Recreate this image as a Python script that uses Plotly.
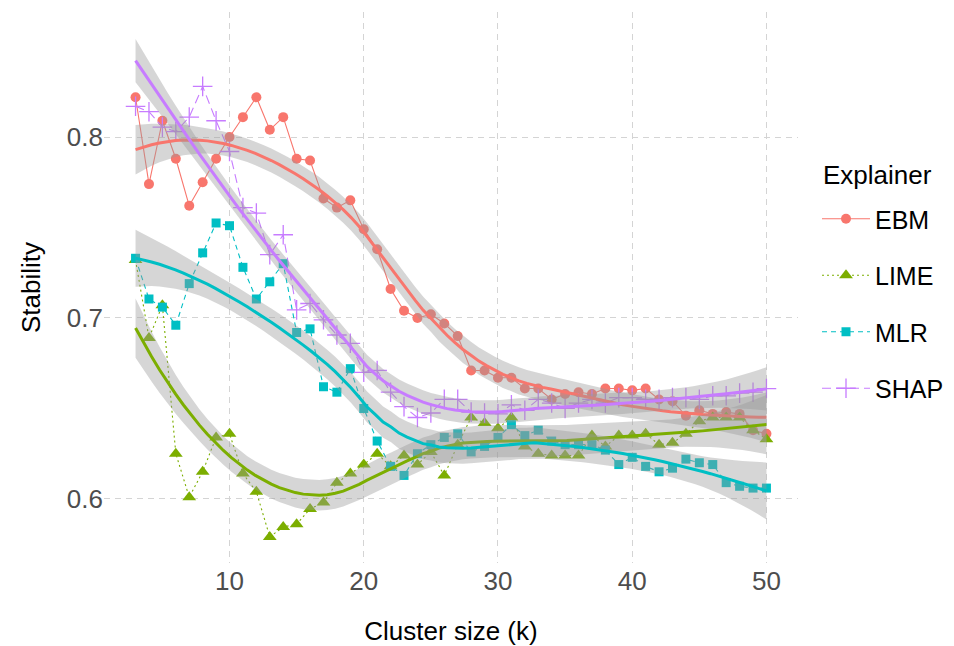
import numpy as np
import plotly.graph_objects as go

k = list(range(3, 51))

ebm = [0.822, 0.774, 0.809, 0.788, 0.762, 0.775, 0.788, 0.800, 0.811, 0.822,
       0.804, 0.811, 0.788, 0.787, 0.766, 0.761, 0.765, 0.749, 0.738, 0.716,
       0.704, 0.700, 0.702, 0.697, 0.690, 0.671, 0.671, 0.667, 0.667, 0.661,
       0.661, 0.655, 0.658, 0.659, 0.658, 0.661, 0.661, 0.660, 0.661, 0.655,
       0.654, 0.646, 0.649, 0.647, 0.648, 0.647, 0.638, 0.636]
lime = [0.732, 0.689, 0.707, 0.625, 0.601, 0.615, 0.634, 0.636, 0.614, 0.604,
        0.579, 0.5845, 0.586, 0.5945, 0.598, 0.609, 0.614, 0.619, 0.625, 0.618,
        0.624, 0.619, 0.626, 0.613, 0.630, 0.645, 0.642, 0.639, 0.645, 0.629,
        0.625, 0.624, 0.624, 0.624, 0.635, 0.629, 0.635, 0.635, 0.636, 0.630,
        0.631, 0.636, 0.643, 0.645, 0.645, 0.645, 0.638, 0.633]
mlr = [0.733, 0.7105, 0.706, 0.696, 0.719, 0.736, 0.7525, 0.751, 0.728, 0.7105,
       0.720, 0.730, 0.692, 0.694, 0.662, 0.659, 0.672, 0.650, 0.632, 0.618,
       0.613, 0.625, 0.630, 0.634, 0.636, 0.626, 0.629, 0.634, 0.641, 0.635,
       0.638, 0.632, 0.630, 0.630, 0.630, 0.627, 0.619, 0.623, 0.618, 0.615,
       0.617, 0.622, 0.620, 0.619, 0.609, 0.607, 0.606, 0.606]
shap = [0.817, 0.814, 0.8055, 0.803, 0.811, 0.828, 0.809, 0.792, 0.761, 0.758,
        0.735, 0.746, 0.7045, 0.708, 0.699, 0.6906, 0.686, 0.670, 0.671, 0.659,
        0.651, 0.645, 0.6475, 0.655, 0.655, 0.648, 0.6475, 0.647, 0.652, 0.649,
        0.655, 0.653, 0.650, 0.653, 0.655, 0.653, 0.656, 0.656, 0.655, 0.655,
        0.656, 0.656, 0.655, 0.657, 0.657, 0.6585, 0.659, 0.661]

names = ["EBM", "LIME", "MLR", "SHAP"]
series = [ebm, lime, mlr, shap]
colors = ["#F8766D", "#7CAE00", "#00BFC4", "#C77CFF"]
symbols = ["circle", "triangle-up", "square", "cross-thin"]
msizes = [10, 12, 9, 14]
dashes = ["solid", "2px,3px", "5px,4px", "9px,5px"]

x_ticks = [10, 20, 30, 40, 50]
y_ticks = [0.6, 0.7, 0.8]


def loess_weights(x, x0, span=0.75, degree=2):
    n = len(x)
    q = int(np.floor(n * span))
    d = np.abs(x - x0)
    h = np.sort(d)[q - 1]
    u = np.clip(d / h, 0, 1)
    w = (1 - u ** 3) ** 3
    X = np.vander(x - x0, degree + 1, increasing=True)
    XtW = X.T * w
    A = XtW @ X
    return np.linalg.solve(A, XtW)[0]


def loess_fit(x, y, grid):
    x = np.asarray(x, float)
    y = np.asarray(y, float)
    n = len(x)
    L = np.array([loess_weights(x, xi) for xi in x])
    res = y - L @ y
    M = (np.eye(n) - L).T @ (np.eye(n) - L)
    d1 = np.trace(M)
    d2 = np.trace(M @ M)
    s = np.sqrt(np.sum(res ** 2) / d1)
    df = d1 ** 2 / d2
    z = 1.959964
    t = z + (z ** 3 + z) / (4 * df) + (5 * z ** 5 + 16 * z ** 3 + 3 * z) / (96 * df ** 2)
    fit, se = [], []
    for g in grid:
        l = loess_weights(x, g)
        fit.append(l @ y)
        se.append(s * np.sqrt(np.sum(l ** 2)))
    fit = np.array(fit)
    se = np.array(se)
    return fit, fit - t * se, fit + t * se


grid = np.linspace(min(k), max(k), 80)
smooths = [loess_fit(k, s, grid) for s in series]

fig = go.Figure()
for i, (nm, s) in enumerate(zip(names, series)):
    fig.add_trace(go.Scatter(
        x=k, y=s, mode="lines+markers", name=nm, legendgroup=nm,
        line=dict(color=colors[i], width=1.1, dash=dashes[i]),
        marker=dict(symbol=symbols[i], size=msizes[i], color=colors[i],
                    line=dict(width=1.3 if symbols[i] == "cross-thin" else 0, color=colors[i])),
    ))

for i, nm in enumerate(names):
    fit, lo, hi = smooths[i]
    fig.add_trace(go.Scatter(x=grid, y=lo, mode="lines", line=dict(width=0),
                             showlegend=False, hoverinfo="skip"))
    fig.add_trace(go.Scatter(x=grid, y=hi, mode="lines", line=dict(width=0),
                             fill="tonexty", fillcolor="rgba(153,153,153,0.4)",
                             showlegend=False, hoverinfo="skip"))
    fig.add_trace(go.Scatter(x=grid, y=fit, mode="lines",
                             line=dict(color=colors[i], width=3),
                             showlegend=False, hoverinfo="skip"))

xpad = 0.05 * (max(k) - min(k))
# page body has an 8px margin: the figure is drawn 8px right/down of the window origin
W, H = 946, 638
L, R, T, B = 96, 156, 4, 83
pw = W - L - R
ph = H - T - B

font = "Liberation Sans, Arial, sans-serif"
fs = 26
fig.update_layout(
    width=W, height=H,
    margin=dict(l=L, r=R, t=T, b=B, autoexpand=False),
    plot_bgcolor="white", paper_bgcolor="white",
    font=dict(family=font, size=fs, color="black"),
    xaxis=dict(range=[min(k) - xpad, max(k) + xpad], tickvals=x_ticks,
               showgrid=True, gridcolor="#D4D4D4", griddash="6px,5px", gridwidth=1,
               zeroline=False, showline=False, ticks="", automargin=False,
               tickfont=dict(size=fs, color="#4D4D4D"),
               title=dict(text="Cluster size (k)", font=dict(size=fs), standoff=28)),
    yaxis=dict(range=[0.5646, 0.8691], tickvals=y_ticks,
               tickformat=".1f",
               showgrid=True, gridcolor="#D4D4D4", griddash="6px,5px", gridwidth=1,
               zeroline=False, showline=False, ticks="", automargin=False,
               tickfont=dict(size=fs, color="#4D4D4D"),
               title=dict(text="Stability", font=dict(size=fs), standoff=18)),
    legend=dict(x=(809 - L) / pw, y=1 - (188 - T) / ph, xanchor="left", yanchor="top",
                font=dict(size=25), tracegroupgap=21, itemwidth=48,
                bgcolor="rgba(0,0,0,0)"),
    showlegend=True,
    annotations=[dict(text="Explainer", xref="paper", yref="paper",
                      x=(813 - L) / pw, y=1 - (167 - T) / ph,
                      xanchor="left", yanchor="middle", showarrow=False,
                      font=dict(size=fs, color="black"))],
)

fig.write_html("out.html")
